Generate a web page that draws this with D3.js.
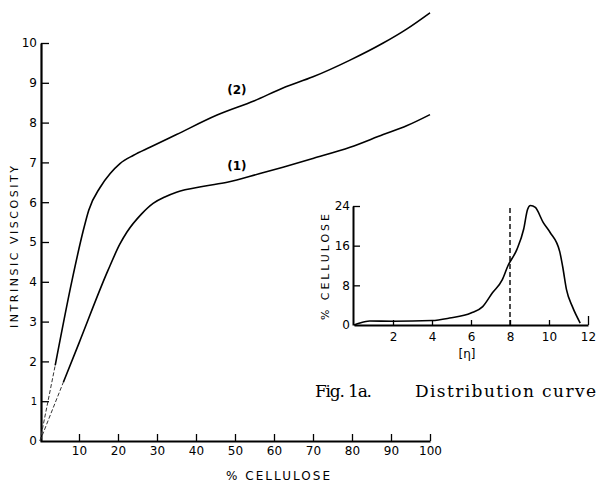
<!DOCTYPE html>
<html>
<head>
<meta charset="utf-8">
<script src="https://cdn.jsdelivr.net/npm/d3@7"></script>
<style>
  html, body { margin: 0; padding: 0; background: #fff; }
  svg { display: block; }
  text { fill: #000; }
</style>
</head>
<body>
<svg id="chart" width="596" height="483"></svg>
<script>
// ---------- data ----------
const mainXTicks = [10, 20, 30, 40, 50, 60, 70, 80, 90, 100];
const mainYTicks = [0, 1, 2, 3, 4, 5, 6, 7, 8, 9, 10];

const curve2X = [0, 3.9, 8.2, 11, 12.5, 15.4, 18, 20.5, 24, 28.2, 35, 45.4, 55, 62.3, 70, 79.5, 88, 94, 100];
const curve2Y = [0, 1.9, 4.03, 5.25, 5.8, 6.37, 6.72, 6.97, 7.18, 7.38, 7.7, 8.19, 8.55, 8.87, 9.15, 9.57, 10.0, 10.35, 10.76];
const curve2DashedUntil = 1; // index of last point of the dashed extrapolation

const curve1X = [0, 6, 10, 17.4, 20.5, 22.3, 26, 29, 32, 35, 42, 48, 56.4, 62.3, 70, 79.5, 88, 94, 100];
const curve1Y = [0, 1.48, 2.46, 4.28, 4.95, 5.25, 5.7, 5.97, 6.13, 6.25, 6.4, 6.5, 6.72, 6.88, 7.1, 7.38, 7.7, 7.92, 8.2];
const curve1DashedUntil = 1;

const curveLabels = ["(2)", "(1)"];
const curveLabelPos = [[50.5, 8.8], [50.5, 6.9]];

const insetXTicks = [2, 4, 6, 8, 10, 12];
const insetYTicks = [0, 8, 16, 24];
const distEta = [0, 0.3, 0.8, 2, 4, 4.9, 6, 6.6, 7.1, 7.6, 7.9, 8.35, 8.7, 8.9, 9.05, 9.3, 9.7, 10.05, 10.55, 10.7, 10.9, 11.2, 11.6];
const distPct = [0, 0.4, 0.8, 0.75, 0.9, 1.4, 2.4, 3.7, 6.5, 9.1, 12.0, 15.2, 19.3, 23.3, 24.1, 23.7, 20.7, 18.7, 14.8, 11.8, 7.1, 3.7, 0.4];
const dashedEta = 8;
const dashedTop = 23.6;

const mainXTitle = "% CELLULOSE";
const mainYTitle = "INTRINSIC VISCOSITY";
const insetXTitle = "[η]";
const insetYTitle = "% CELLULOSE";
const captionParts = ["Fig. 1a.", "Distribution curve"];

// ---------- drawing ----------
const svg = d3.select("#chart");
const sans = "'DejaVu Sans', sans-serif";

// main scales
const x = d3.scaleLinear().domain([0, 100]).range([40, 430]);
const y = d3.scaleLinear().domain([0, 10]).range([441, 43]);

// main axes
const gx = svg.append("g").attr("transform", `translate(0,${y(0)})`)
  .call(d3.axisBottom(x).tickValues(mainXTicks).tickSizeInner(-7).tickSizeOuter(0).tickPadding(5));
const gy = svg.append("g").attr("transform", `translate(${x(0) + 1},0)`)
  .call(d3.axisLeft(y).tickValues(mainYTicks).tickSizeInner(-8).tickSizeOuter(0).tickPadding(3));
[gx, gy].forEach(g => {
  g.select(".domain").attr("stroke", "#000").attr("stroke-width", 2.2);
  g.selectAll(".tick line").attr("stroke", "#000").attr("stroke-width", 1.3);
  g.selectAll(".tick text").attr("font-family", sans).attr("font-size", 12).attr("fill", "#000");
});
gx.selectAll(".tick text").attr("dy", "0.71em");
gy.selectAll(".tick text").attr("x", -4);
gy.selectAll(".tick").filter(d => d === 0).select("line").remove();
gy.selectAll(".tick").filter(d => d === 1).select("text").attr("fill", "#999").attr("font-size", 10);

// main curves
const line = d3.line().x(d => x(d[0])).y(d => y(d[1])).curve(d3.curveMonotoneX);
function drawCurve(xs, ys, dashIdx) {
  const pts = xs.map((v, i) => [v, ys[i]]);
  svg.append("path").attr("d", line(pts.slice(0, dashIdx + 1)))
    .attr("fill", "none").attr("stroke", "#333").attr("stroke-width", 1)
    .attr("stroke-dasharray", "4,2");
  svg.append("path").attr("d", line(pts.slice(dashIdx)))
    .attr("fill", "none").attr("stroke", "#000").attr("stroke-width", 1.6);
}
drawCurve(curve2X, curve2Y, curve2DashedUntil);
drawCurve(curve1X, curve1Y, curve1DashedUntil);

svg.selectAll(".clabel").data(curveLabels).enter().append("text")
  .attr("x", (d, i) => x(curveLabelPos[i][0]))
  .attr("y", (d, i) => y(curveLabelPos[i][1]))
  .attr("text-anchor", "middle").attr("dominant-baseline", "middle")
  .attr("font-family", sans).attr("font-size", 12).attr("font-weight", "bold")
  .text(d => d);

// main titles
svg.append("text").attr("x", 278).attr("y", 480)
  .attr("text-anchor", "middle").attr("font-family", sans).attr("font-size", 12)
  .attr("textLength", 104).attr("lengthAdjust", "spacing")
  .text(mainXTitle);
svg.append("text").attr("transform", "translate(18,247) rotate(-90)")
  .attr("text-anchor", "middle").attr("font-family", sans).attr("font-size", 11)
  .attr("textLength", 162).attr("lengthAdjust", "spacing")
  .text(mainYTitle);

// inset
const ix = d3.scaleLinear().domain([0, 12]).range([354, 588]);
const iy = d3.scaleLinear().domain([0, 24]).range([325, 206]);

const igx = svg.append("g").attr("transform", `translate(0,${iy(0)})`)
  .call(d3.axisBottom(ix).tickValues(insetXTicks).tickSizeInner(-5).tickSizeOuter(0).tickPadding(4));
const igy = svg.append("g").attr("transform", `translate(${ix(0) - 1},0)`)
  .call(d3.axisLeft(iy).tickValues(insetYTicks).tickSizeInner(-7).tickSizeOuter(0).tickPadding(3));
[igx, igy].forEach(g => {
  g.select(".domain").attr("stroke", "#000").attr("stroke-width", 2);
  g.selectAll(".tick line").attr("stroke", "#000").attr("stroke-width", 1.3);
  g.selectAll(".tick text").attr("font-family", sans).attr("font-size", 12).attr("fill", "#000");
});
igx.selectAll(".tick text").attr("dy", "1em").attr("y", 4);
igx.selectAll(".tick").filter(d => d === 12).select("line").attr("y2", -9);
igy.selectAll(".tick").filter(d => d === 0).select("line").remove();
igy.selectAll(".tick text").attr("x", -3);

svg.append("line")
  .attr("x1", ix(dashedEta)).attr("x2", ix(dashedEta))
  .attr("y1", iy(0)).attr("y2", iy(dashedTop))
  .attr("stroke", "#000").attr("stroke-width", 1.4).attr("stroke-dasharray", "5,3");

const iline = d3.line().x(d => ix(d[0])).y(d => iy(d[1])).curve(d3.curveMonotoneX);
svg.append("path").attr("d", iline(distEta.map((v, i) => [v, distPct[i]])))
  .attr("fill", "none").attr("stroke", "#000").attr("stroke-width", 1.6);

svg.append("text").attr("x", 467).attr("y", 358)
  .attr("text-anchor", "middle").attr("font-family", sans).attr("font-size", 12)
  .text(insetXTitle);
svg.append("text").attr("transform", "translate(329,267) rotate(-90)")
  .attr("text-anchor", "middle").attr("font-family", sans).attr("font-size", 11)
  .attr("textLength", 106).attr("lengthAdjust", "spacing")
  .text(insetYTitle);

// caption
const serif = "'DejaVu Serif', 'Liberation Serif', serif";
const capX = [315, 415];
const capLen = [57, 181];
captionParts.forEach((t, i) => {
  svg.append("text").attr("x", capX[i]).attr("y", 397)
    .attr("font-family", serif).attr("font-size", 17)
    .attr("textLength", capLen[i]).attr("lengthAdjust", "spacing")
    .text(t);
});
</script>
</body>
</html>
